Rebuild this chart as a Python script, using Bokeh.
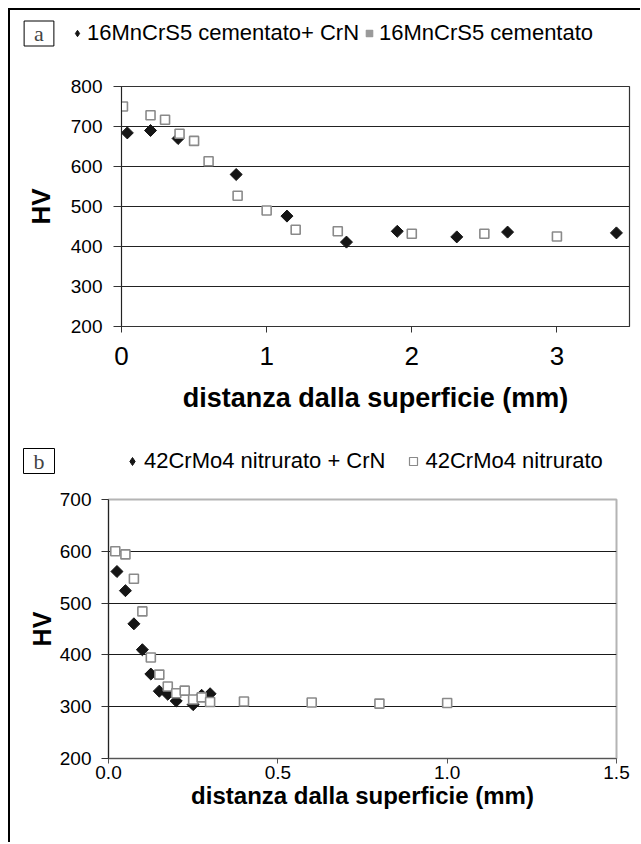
import math
from bokeh.plotting import figure
from bokeh.models import FixedTicker, Legend, LegendItem, Label
from bokeh.layouts import column
from bokeh.embed import file_html
from bokeh.resources import INLINE

SANS = "Liberation Sans"
SERIF = "Liberation Serif"

# ---------------- data: panel a ----------------
a_series_names = ["16MnCrS5 cementato+ CrN", "16MnCrS5 cementato"]
a_crn_x = [0.04, 0.20, 0.39, 0.79, 1.14, 1.55, 1.90, 2.31, 2.66, 3.41]
a_crn_hv = [684, 690, 670, 580, 476, 411, 438, 424, 436, 434]
a_cem_x = [0.01, 0.20, 0.30, 0.40, 0.50, 0.60, 0.80, 1.00, 1.20, 1.49, 2.00, 2.50, 3.00]
a_cem_hv = [750, 728, 717, 682, 664, 613, 527, 490, 442, 438, 432, 432, 425]
a_xticks = [0, 1, 2, 3]
a_yticks = [200, 300, 400, 500, 600, 700, 800]

# ---------------- data: panel b ----------------
b_series_names = ["42CrMo4 nitrurato + CrN", "42CrMo4 nitrurato"]
b_crn_x = [0.025, 0.05, 0.075, 0.10, 0.125, 0.15, 0.175, 0.20, 0.25, 0.275, 0.30]
b_crn_hv = [561, 524, 460, 410, 363, 330, 324, 311, 304, 322, 325]
b_nit_x = [0.02, 0.05, 0.075, 0.10, 0.125, 0.15, 0.175, 0.20, 0.225, 0.25, 0.275, 0.30, 0.40, 0.60, 0.80, 1.00]
b_nit_hv = [600, 594, 547, 484, 395, 362, 339, 326, 331, 314, 318, 309, 310, 308, 306, 307]
b_xticks = [0.0, 0.5, 1.0, 1.5]
b_xtick_labels = ["0.0", "0.5", "1.0", "1.5"]
b_yticks = [200, 300, 400, 500, 600, 700]

panel_tags = ["a", "b"]
x_title = "distanza dalla superficie (mm)"
y_title = "HV"

DIAMOND_C = "#151515"
SQUARE_C = "#8a8a8a"


def style_axes(p, xt_size, yt_size, xtitle_size, ytitle_size):
    for ax in (p.xaxis[0], p.yaxis[0]):
        ax.minor_tick_line_color = None
        ax.major_label_text_font = SANS
        ax.major_label_text_color = "black"
        ax.axis_label_text_font = SANS
        ax.axis_label_text_font_style = "bold"
        ax.axis_label_text_color = "black"
        ax.major_tick_in = 0
    p.xaxis.major_label_text_font_size = xt_size
    p.yaxis.major_label_text_font_size = yt_size
    p.xaxis.axis_label_text_font_size = xtitle_size
    p.yaxis.axis_label_text_font_size = ytitle_size
    p.xgrid.grid_line_color = None


def header(height, tag, tag_x, tag_y, names, series, sq_fill, leg_loc, glyph_w, spacing):
    # legend strip above a panel; its ranges lie away from the data, so the
    # sample renderers only supply the legend swatches
    h = figure(width=630, height=height, x_range=(-2, -1), y_range=(-2, -1),
               output_backend="svg", toolbar_location=None,
               x_axis_location=None, y_axis_location=None, min_border=0)
    h.grid.visible = False
    h.outline_line_color = None
    (x1, y1), (x2, y2) = series
    r1 = h.scatter(x=x1, y=y1, marker="diamond", fill_color=DIAMOND_C, line_color=DIAMOND_C)
    r2 = h.scatter(x=x2, y=y2, marker="square", fill_color=sq_fill,
                   line_color=SQUARE_C if sq_fill == "white" else sq_fill, line_width=1.2)
    leg = Legend(items=[LegendItem(label=names[0], renderers=[r1]),
                        LegendItem(label=names[1], renderers=[r2])],
                 location=leg_loc, orientation="horizontal",
                 glyph_width=glyph_w, glyph_height=24, label_standoff=2, spacing=spacing,
                 padding=0, margin=0, border_line_alpha=0, background_fill_alpha=0,
                 label_text_font=SANS, label_text_font_size="22px", label_text_color="black")
    h.add_layout(leg)
    h.add_layout(Label(x=tag_x, y=tag_y, x_units="screen", y_units="screen", text=tag,
                       text_font=SERIF, text_font_size="22px", text_align="center",
                       text_baseline="middle", border_line_color="black", border_line_width=1,
                       background_fill_color="white", padding=(10, 0)))
    return h


# ---------------- panel a ----------------
ha = header(50, panel_tags[0], 28.5, 27, a_series_names,
            ((a_crn_x, a_crn_hv), (a_cem_x, a_cem_hv)), "#9a9a9a", (59, 14), 16, 2)

pa = figure(width=630, height=370, x_range=(0, 3.5), y_range=(200, 800),
            output_backend="svg", toolbar_location=None,
            min_border_left=111, min_border_right=11, min_border_top=26, min_border_bottom=104)
pa.xaxis.ticker = FixedTicker(ticks=a_xticks)
pa.yaxis.ticker = FixedTicker(ticks=a_yticks)
style_axes(pa, "26px", "19px", "27px", "26px")
pa.xaxis.axis_label = x_title
pa.yaxis.axis_label = y_title
pa.ygrid.grid_line_color = "#222222"
pa.ygrid.grid_line_width = 1.2
pa.outline_line_color = "#333333"
pa.outline_line_width = 1.2
pa.xaxis.axis_line_color = "#333333"
pa.yaxis.axis_line_color = "#222222"
pa.xaxis.major_tick_line_color = "#333333"
pa.yaxis.major_tick_line_color = "#333333"
pa.yaxis.major_tick_out = 8
pa.xaxis.major_tick_out = 6
pa.yaxis.major_label_standoff = 11
pa.xaxis.major_label_standoff = 14
pa.xaxis.axis_label_standoff = 15
pa.yaxis.axis_label_standoff = 12

pa.scatter(a_crn_x, a_crn_hv, marker="square", angle=math.pi / 4, size=8.5,
           fill_color=DIAMOND_C, line_color=DIAMOND_C)
pa.scatter(a_cem_x, a_cem_hv, marker="square", size=9,
           fill_color="white", line_color=SQUARE_C, line_width=1.6)

# ---------------- panel b ----------------
hb = header(50, panel_tags[1], 28.5, 19.5, b_series_names,
            ((b_crn_x, b_crn_hv), (b_nit_x, b_nit_hv)), "white", (112, 6), 20, 18)

pb = figure(width=630, height=362, x_range=(0, 1.5), y_range=(200, 700),
            output_backend="svg", toolbar_location=None,
            min_border_left=98, min_border_right=24, min_border_top=19, min_border_bottom=84)
pb.xaxis.ticker = FixedTicker(ticks=b_xticks)
pb.xaxis.major_label_overrides = {t: s for t, s in zip(b_xticks, b_xtick_labels)}
pb.yaxis.ticker = FixedTicker(ticks=b_yticks)
style_axes(pb, "19px", "19px", "24px", "25px")
pb.xaxis.axis_label = x_title
pb.yaxis.axis_label = y_title
pb.ygrid.grid_line_color = "#1a1a1a"
pb.ygrid.grid_line_width = 1.2
pb.outline_line_color = "#b4b4b4"
pb.outline_line_width = 2
pb.xaxis.axis_line_color = "#555555"
pb.yaxis.axis_line_color = "#222222"
pb.xaxis.major_tick_line_color = "#555555"
pb.yaxis.major_tick_line_color = "#333333"
pb.yaxis.major_tick_out = 7
pb.xaxis.major_tick_out = 5
pb.yaxis.major_label_standoff = 10
pb.xaxis.major_label_standoff = 2
pb.xaxis.axis_label_standoff = 0
pb.yaxis.axis_label_standoff = 1

pb.scatter(b_crn_x, b_crn_hv, marker="square", angle=math.pi / 4, size=8.5,
           fill_color=DIAMOND_C, line_color=DIAMOND_C)
pb.scatter(b_nit_x, b_nit_hv, marker="square", size=9,
           fill_color="white", line_color=SQUARE_C, line_width=1.6)

edge = "2px solid #000"
roots = [
    column(ha, styles={"margin-left": "8px", "margin-top": "8px",
                       "border-left": edge, "border-top": edge}),
    column(pa, styles={"margin-left": "8px", "border-left": edge}),
    column(hb, styles={"margin-left": "8px", "border-left": edge}),
    column(pb, styles={"margin-left": "8px", "border-left": edge}),
]

open("out.html", "w").write(file_html(roots, INLINE))
